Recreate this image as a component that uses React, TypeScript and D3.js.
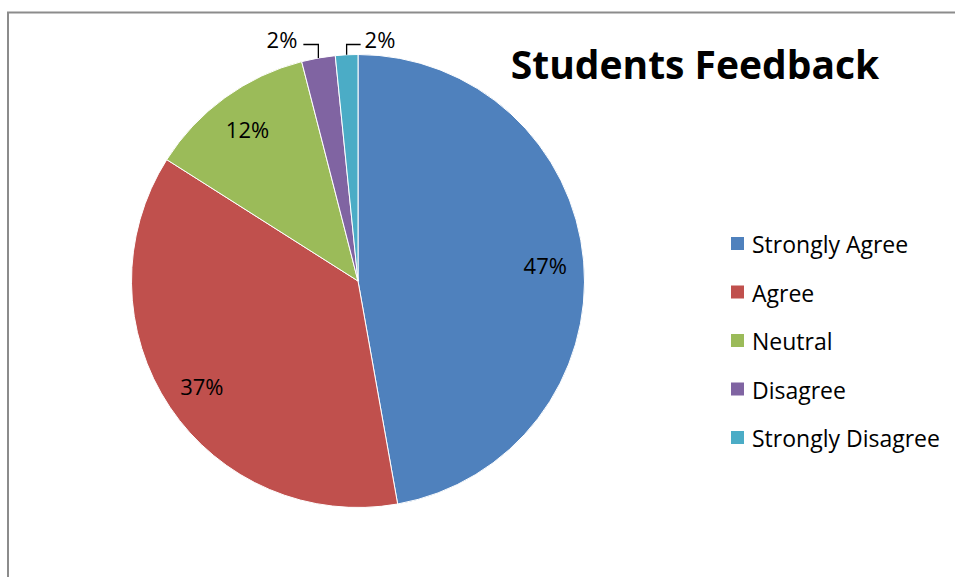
import React from "react";
import * as d3 from "d3";

const categories = ["Strongly Agree", "Agree", "Neutral", "Disagree", "Strongly Disagree"];
const counts = [59, 46, 15, 3, 2];
const colors = ["#4F81BD", "#C0504D", "#9BBB59", "#8064A2", "#4BACC6"];
const title = "Students Feedback";

const W = 955;
const H = 577;
const cx = 358;
const cy = 281;
const R = 226.5;
const FONT = "'Open Sans', sans-serif";

export default function App() {
  const total = d3.sum(counts);
  const pie = d3.pie<number>().sort(null).value((d) => d);
  const arcs = pie(counts);
  const arcGen = d3.arc<d3.PieArcDatum<number>>().innerRadius(0).outerRadius(R);
  const labelArc = d3.arc<d3.PieArcDatum<number>>().innerRadius(R * 0.83).outerRadius(R * 0.83);
  const fmt = (v: number) => `${Math.round((v / total) * 100)}%`;

  return (
    <svg width={W} height={H} style={{ position: "absolute", left: 0, top: 0, background: "#fff" }}>
      <rect x={8} y={12.5} width={W + 10} height={H + 10} fill="#fff" stroke="#8c8c8c" strokeWidth={2} />
      <g transform={`translate(${cx},${cy})`}>
        {arcs.map((a, i) => (
          <path key={i} d={arcGen(a) || ""} fill={colors[i]} stroke="#fff" strokeWidth={1} />
        ))}
        {arcs.map((a, i) => {
          const share = a.value / total;
          if (share >= 0.05) {
            const [lx, ly] = labelArc.centroid(a);
            return (
              <text key={`l${i}`} x={lx} y={ly} textAnchor="middle" dominantBaseline="central"
                fontFamily={FONT} fontSize={22} fill="#000">
                {fmt(a.value)}
              </text>
            );
          }
          const mid = (a.startAngle + a.endAngle) / 2;
          const px = R * Math.sin(mid);
          const py = -R * Math.cos(mid);
          const ey = -R - 10;
          const right = i === arcs.length - 1;
          const hx = px + (right ? 14 : -15);
          return (
            <g key={`l${i}`}>
              <polyline points={`${px},${py} ${px},${ey} ${hx},${ey}`} fill="none" stroke="#000" strokeWidth={1.3} />
              <text x={hx + (right ? 4 : -6)} y={ey - 6} textAnchor={right ? "start" : "end"}
                dominantBaseline="central" fontFamily={FONT} fontSize={22} fill="#000">
                {fmt(a.value)}
              </text>
            </g>
          );
        })}
      </g>
      <text x={695} y={63} textAnchor="middle" dominantBaseline="central" fontFamily={FONT}
        fontSize={39} fontWeight="bold" fill="#000">
        {title}
      </text>
      {categories.map((c, i) => (
        <g key={c} transform={`translate(731,${244 + i * 48.5})`}>
          <rect x={0} y={-7} width={13} height={13} fill={colors[i]} />
          <text x={21} y={0} dominantBaseline="central" fontFamily={FONT} fontSize={23} fill="#000">
            {c}
          </text>
        </g>
      ))}
    </svg>
  );
}
